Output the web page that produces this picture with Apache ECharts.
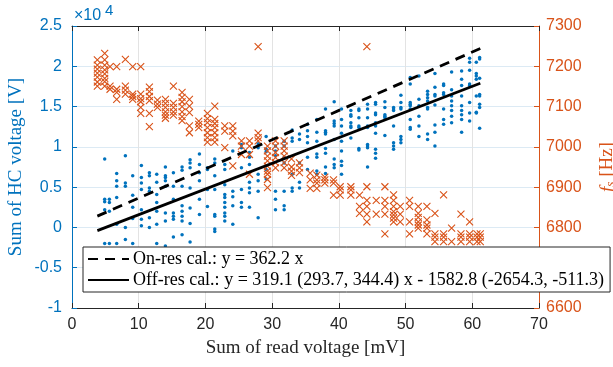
<!DOCTYPE html>
<html>
<head>
<meta charset="utf-8">
<script src="https://cdn.jsdelivr.net/npm/echarts@6/dist/echarts.min.js"></script>
<style>
  html, body { margin: 0; padding: 0; background: #fff; }
  #chart { width: 613px; height: 367px; }
</style>
</head>
<body>
<div id="chart"></div>
<script>
// HC voltage sum (x10^4 V), grouped by read-voltage column (mV)
const hcX = [4.9, 5.6, 6.7, 8.0, 9.1, 10.4, 11.6, 12.7, 14.0, 15.2, 16.5, 17.7, 19.1, 20.3, 21.4, 22.9, 24.1, 25.4, 26.6, 27.9, 29.1, 30.5, 31.8, 33.0, 34.1,
  35.3, 36.7, 38.0, 39.3, 40.4, 41.8, 43.0, 44.3, 45.5, 46.9, 48.2, 49.3, 50.7, 52.0, 53.3, 54.4, 55.7, 56.9, 58.4, 59.6, 60.6, 61.1]
const hcY = [
  [0.85, 0.35, 0.32, 0.22, -0.20],
  [0.35, 0.31, 0.20, -0.20],
  [0.67, 0.58, 0.51, 0.37, 0.04, -0.20],
  [0.89, 0.55, 0.51, 0.00, -0.15],
  [0.64, 0.40, 0.25, 0.11, -0.20],
  [0.77, 0.62, 0.55, 0.47, 0.22, 0.10, 0.02],
  [0.68, 0.64, 0.49, 0.45, 0.12, 0.00],
  [0.66, 0.56, 0.41, 0.31, 0.20, 0.04, -0.20],
  [0.75, 0.64, 0.62, 0.58, 0.51, 0.18, 0.08, -0.23],
  [0.68, 0.51, 0.35, 0.18, 0.14, 0.10, -0.12],
  [0.75, 0.71, 0.51, 0.27, 0.20, 0.14, 0.08, -0.09],
  [0.84, 0.80, 0.74, 0.49, 0.24, 0.05, -0.18],
  [0.91, 0.78, 0.68, 0.58, 0.35, 0.16],
  [0.74, 0.72, 0.47, 0.26],
  [0.85, 0.80, 0.64, 0.47, 0.16, 0.14, -0.02, -0.05],
  [0.78, 0.72, 0.53, 0.41, 0.37, 0.31, 0.25, 0.18, 0.14, 0.08],
  [0.95, 0.45, 0.38, 0.27, 0.04],
  [1.03, 0.99, 0.74, 0.47, 0.31, 0.25],
  [0.93, 0.87, 0.78, 0.56, 0.49, 0.43, 0.25],
  [1.04, 0.99, 0.66, 0.58, 0.45, 0.12],
  [1.13, 0.97, 0.94, 0.72, 0.60],
  [1.01, 0.95, 0.89, 0.45, 0.35, 0.22],
  [1.07, 1.01, 0.87, 0.80, 0.45, 0.27, 0.22],
  [1.21, 1.11, 1.07, 0.66, 0.49, 0.45],
  [1.16, 1.09, 0.80, 0.56, 0.49],
  [1.28, 1.20, 1.13, 1.05, 0.87, 0.72],
  [1.34, 1.18, 1.07, 0.91, 0.87, 0.70, 0.66],
  [1.47, 1.20, 1.18, 1.16, 0.98, 0.92, 0.75, 0.67],
  [1.56, 1.32, 1.29, 1.26, 1.09, 0.85, 0.78, 0.74],
  [1.47, 1.34, 1.26, 1.17, 1.07, 0.95, 0.82, 0.77, 0.66],
  [1.45, 1.40, 1.38, 1.30, 1.26, 1.24, 1.11],
  [1.47, 1.45, 1.36, 1.26, 1.24, 0.98, 0.96],
  [1.53, 1.47, 1.36, 1.26, 1.24, 1.03, 1.01, 0.99, 0.75],
  [1.55, 1.53, 1.42, 1.40, 1.30, 1.26, 1.17, 0.97, 0.92, 0.86],
  [1.56, 1.49, 1.40, 1.38, 1.36, 1.14],
  [1.49, 1.47, 1.45, 1.26, 1.05, 1.01, 0.97],
  [1.64, 1.55, 1.49, 1.47, 1.13, 1.09, 1.05],
  [1.86, 1.78, 1.55, 1.53, 1.51, 1.47, 1.34, 1.24, 1.22],
  [1.88, 1.59, 1.51, 1.38, 1.26, 1.13],
  [1.69, 1.65, 1.61, 1.57, 1.49, 1.47, 1.16, 1.09],
  [1.91, 1.74, 1.65, 1.63, 1.52, 1.27, 1.18, 1.01],
  [1.78, 1.76, 1.67, 1.65, 1.47, 1.34, 1.28],
  [1.93, 1.71, 1.63, 1.57, 1.51, 1.45, 1.38, 1.30],
  [1.94, 1.84, 1.76, 1.63, 1.51, 1.45, 1.40, 1.34, 1.18],
  [2.10, 2.05, 1.95, 1.78, 1.76, 1.55, 1.42, 1.32],
  [2.05, 1.91, 1.88, 1.84, 1.63, 1.43, 1.42],
  [2.11, 2.09, 1.85, 1.65, 1.63, 1.53, 1.49, 1.23]
]

// f_s (Hz), grouped by read-voltage column (mV)
const fsX = [3.8, 4.9, 5.7, 6.7, 8.0, 9.1, 10.3, 11.6, 12.8, 14.0, 15.2, 16.5, 17.6, 19.0, 20.3, 21.4, 22.9, 24.1, 25.4, 26.6, 27.9, 29.3, 30.5, 31.8, 32.9, 34.1,
  35.7, 36.7, 37.9, 39.2, 40.2, 41.8, 43.1, 44.2, 45.6, 46.9, 48.2, 49.2, 50.6, 51.9, 53.2, 54.4, 55.7, 56.9, 58.3, 59.6, 60.7, 61.2]
const fsY = [
  [7216, 7203, 7193, 7183, 7173, 7161, 7151],
  [7232, 7216, 7203, 7191, 7181, 7170, 7162, 7151],
  [7199, 7151, 7143],
  [7199, 7143, 7135, 7118],
  [7217, 7151, 7141, 7131],
  [7199, 7131, 7125, 7118],
  [7199, 7131, 7120, 7112, 7098, 7083],
  [7148, 7137, 7125, 7115, 7083, 7050],
  [7116, 7106, 7098],
  [7118, 7108, 7098, 7087, 7079, 7071],
  [7151, 7108, 7098, 7087, 7079],
  [7135, 7123, 7112, 7100, 7087, 7075, 7065],
  [7118, 7101, 7085, 7052, 7035],
  [7064, 7056, 7048],
  [7083, 7070, 7060, 7048, 7035, 7023, 7012],
  [7101, 7068, 7058, 7048, 7035, 7023, 7012],
  [7052, 7039, 6998],
  [7052, 7039, 7027, 6953],
  [7015, 7002, 6981],
  [7015, 7002, 6981, 6932],
  [7249, 7034, 7023, 7015],
  [7002, 6990, 6977, 6965, 6952, 6940, 6932, 6919, 6899],
  [7015, 7002, 6986, 6973, 6961, 6948],
  [7015, 7002, 6990, 6977, 6961, 6948],
  [6970, 6950, 6940, 6929],
  [6960, 6948, 6936],
  [6935, 6918, 6897],
  [6930, 6918, 6910, 6897],
  [6925, 6918, 6910],
  [6918, 6910, 6880],
  [6901, 6893, 6880],
  [6901, 6893, 6880],
  [6880, 6852, 6835],
  [7249, 6901, 6867, 6852, 6833, 6814],
  [6867, 6833],
  [6901, 6867, 6852, 6833, 6784],
  [6881, 6867, 6852, 6839, 6831, 6823, 6814],
  [6852, 6833, 6814],
  [6867, 6852, 6814, 6784],
  [6852, 6835, 6825, 6814, 6806, 6798],
  [6852, 6819, 6806, 6798, 6784],
  [6835, 6784, 6776, 6765],
  [6881, 6784, 6776, 6765],
  [6798, 6765],
  [6833, 6784, 6776, 6765],
  [6814, 6784, 6776, 6765],
  [6784, 6776, 6765],
  [6784, 6776, 6765]
]

// calibration lines, end points (mV, x10^4 V)
const onResLine = [[3.8, 0.14], [61.2, 2.22]]
const offResLine = [[3.8, -0.04], [61.2, 1.79]]

const onResName = 'On-res cal.: y = 362.2 x'
const offResName = 'Off-res cal.: y = 319.1 (293.7, 344.4) x - 1582.8 (-2654.3, -511.3)'

const blue = '#0072BD'
const orange = '#D95319'
const dark = '#262626'
const serif = '"Liberation Serif", "Times New Roman", serif'
const sans = '"Liberation Sans", Arial, sans-serif'

function toPairs(xs, cols) {
  const out = []
  xs.forEach((x, i) => cols[i].forEach(v => out.push([x, v])))
  return out
}

const chart = echarts.init(document.getElementById('chart'))

const option = {
  animation: false,
  backgroundColor: '#fff',
  grid: { left: 72, right: 74, top: 26, bottom: 59, outerBoundsMode: 'none' },
  xAxis: [
    {
      type: 'value', min: 0, max: 70, interval: 10, position: 'bottom',
      axisLine: { show: true, onZero: false, lineStyle: { color: dark, width: 1 } },
      axisTick: { show: true, inside: true, length: 5, lineStyle: { color: dark } },
      axisLabel: { color: dark, fontFamily: sans, fontSize: 16, margin: 9 },
      splitLine: { show: true, lineStyle: { color: '#E3E3E3', width: 1 } },
      name: 'Sum of read voltage [mV]', nameLocation: 'middle', nameGap: 31, nameMoveOverlap: false,
      nameTextStyle: { fontFamily: serif, fontSize: 19, color: dark }
    },
    {
      type: 'value', min: 0, max: 70, interval: 10, position: 'top',
      axisLine: { show: true, onZero: false, lineStyle: { color: dark, width: 1 } },
      axisTick: { show: true, inside: true, length: 5, lineStyle: { color: dark } },
      axisLabel: { show: false },
      splitLine: { show: false }
    }
  ],
  yAxis: [
    {
      type: 'value', min: -1, max: 2.5, interval: 0.5, position: 'left',
      axisLine: { show: true, onZero: false, lineStyle: { color: blue, width: 1 } },
      axisTick: { show: true, inside: true, length: 5, lineStyle: { color: blue } },
      axisLabel: { color: blue, fontFamily: sans, fontSize: 16, margin: 10 },
      splitLine: { show: true, lineStyle: { color: '#DCEAF4', width: 1 } },
      name: 'Sum of HC voltage [V]', nameLocation: 'middle', nameGap: 46, nameRotate: 90, nameMoveOverlap: false,
      nameTextStyle: { fontFamily: serif, fontSize: 19, color: blue }
    },
    {
      type: 'value', min: 6600, max: 7300, interval: 100, position: 'right',
      axisLine: { show: true, onZero: false, lineStyle: { color: orange, width: 1 } },
      axisTick: { show: true, inside: true, length: 5, lineStyle: { color: orange } },
      axisLabel: { color: orange, fontFamily: sans, fontSize: 16, margin: 7, formatter: v => String(v) },
      splitLine: { show: false },
      name: '{f|f}{s|s}{n| [Hz]}', nameLocation: 'middle', nameGap: 59, nameRotate: 90, nameMoveOverlap: false,
      nameTextStyle: {
        fontFamily: serif, fontSize: 19, color: orange,
        rich: {
          f: { fontFamily: serif, fontSize: 19, fontStyle: 'italic', color: orange },
          s: { fontFamily: serif, fontSize: 13, fontStyle: 'italic', color: orange, verticalAlign: 'bottom' },
          n: { fontFamily: serif, fontSize: 19, color: orange }
        }
      }
    }
  ],
  legend: {
    data: [onResName, offResName],
    orient: 'vertical',
    left: 83, top: 247,
    padding: [3, 6, 3, 4],
    itemGap: 3,
    itemWidth: 41, itemHeight: 14,
    backgroundColor: '#fff',
    borderColor: dark, borderWidth: 1, borderRadius: 0,
    selectedMode: false,
    itemStyle: { opacity: 0 },
    textStyle: { fontFamily: serif, fontSize: 18, color: '#000', padding: [0, 0, 0, -1] }
  },
  graphic: [
    { type: 'text', left: 74, top: 8, style: { text: '×10', fontFamily: sans, fontSize: 16, fill: blue } },
    { type: 'text', left: 105, top: 3, style: { text: '4', fontFamily: sans, fontSize: 15, fill: blue } }
  ],
  series: [
    {
      type: 'scatter', xAxisIndex: 0, yAxisIndex: 0, silent: true,
      data: toPairs(hcX, hcY),
      symbol: 'circle', symbolSize: 3.5,
      itemStyle: { color: blue, opacity: 1 },
      z: 2
    },
    {
      type: 'scatter', xAxisIndex: 0, yAxisIndex: 1, silent: true,
      data: toPairs(fsX, fsY),
      symbol: 'path://M0,0L10,10M10,0L0,10', symbolSize: 7,
      itemStyle: { color: 'rgba(0,0,0,0)', borderColor: orange, borderWidth: 1.1, opacity: 1 },
      z: 3
    },
    {
      name: onResName, type: 'line', xAxisIndex: 0, yAxisIndex: 0, silent: true,
      data: onResLine, symbol: 'none',
      itemStyle: { color: '#000' },
      lineStyle: { color: '#000', width: 2.8, type: [10, 7] },
      z: 5
    },
    {
      name: offResName, type: 'line', xAxisIndex: 0, yAxisIndex: 0, silent: true,
      data: offResLine, symbol: 'none',
      itemStyle: { color: '#000' },
      lineStyle: { color: '#000', width: 2.8 },
      z: 5
    }
  ]
}

chart.setOption(option)
</script>
</body>
</html>
